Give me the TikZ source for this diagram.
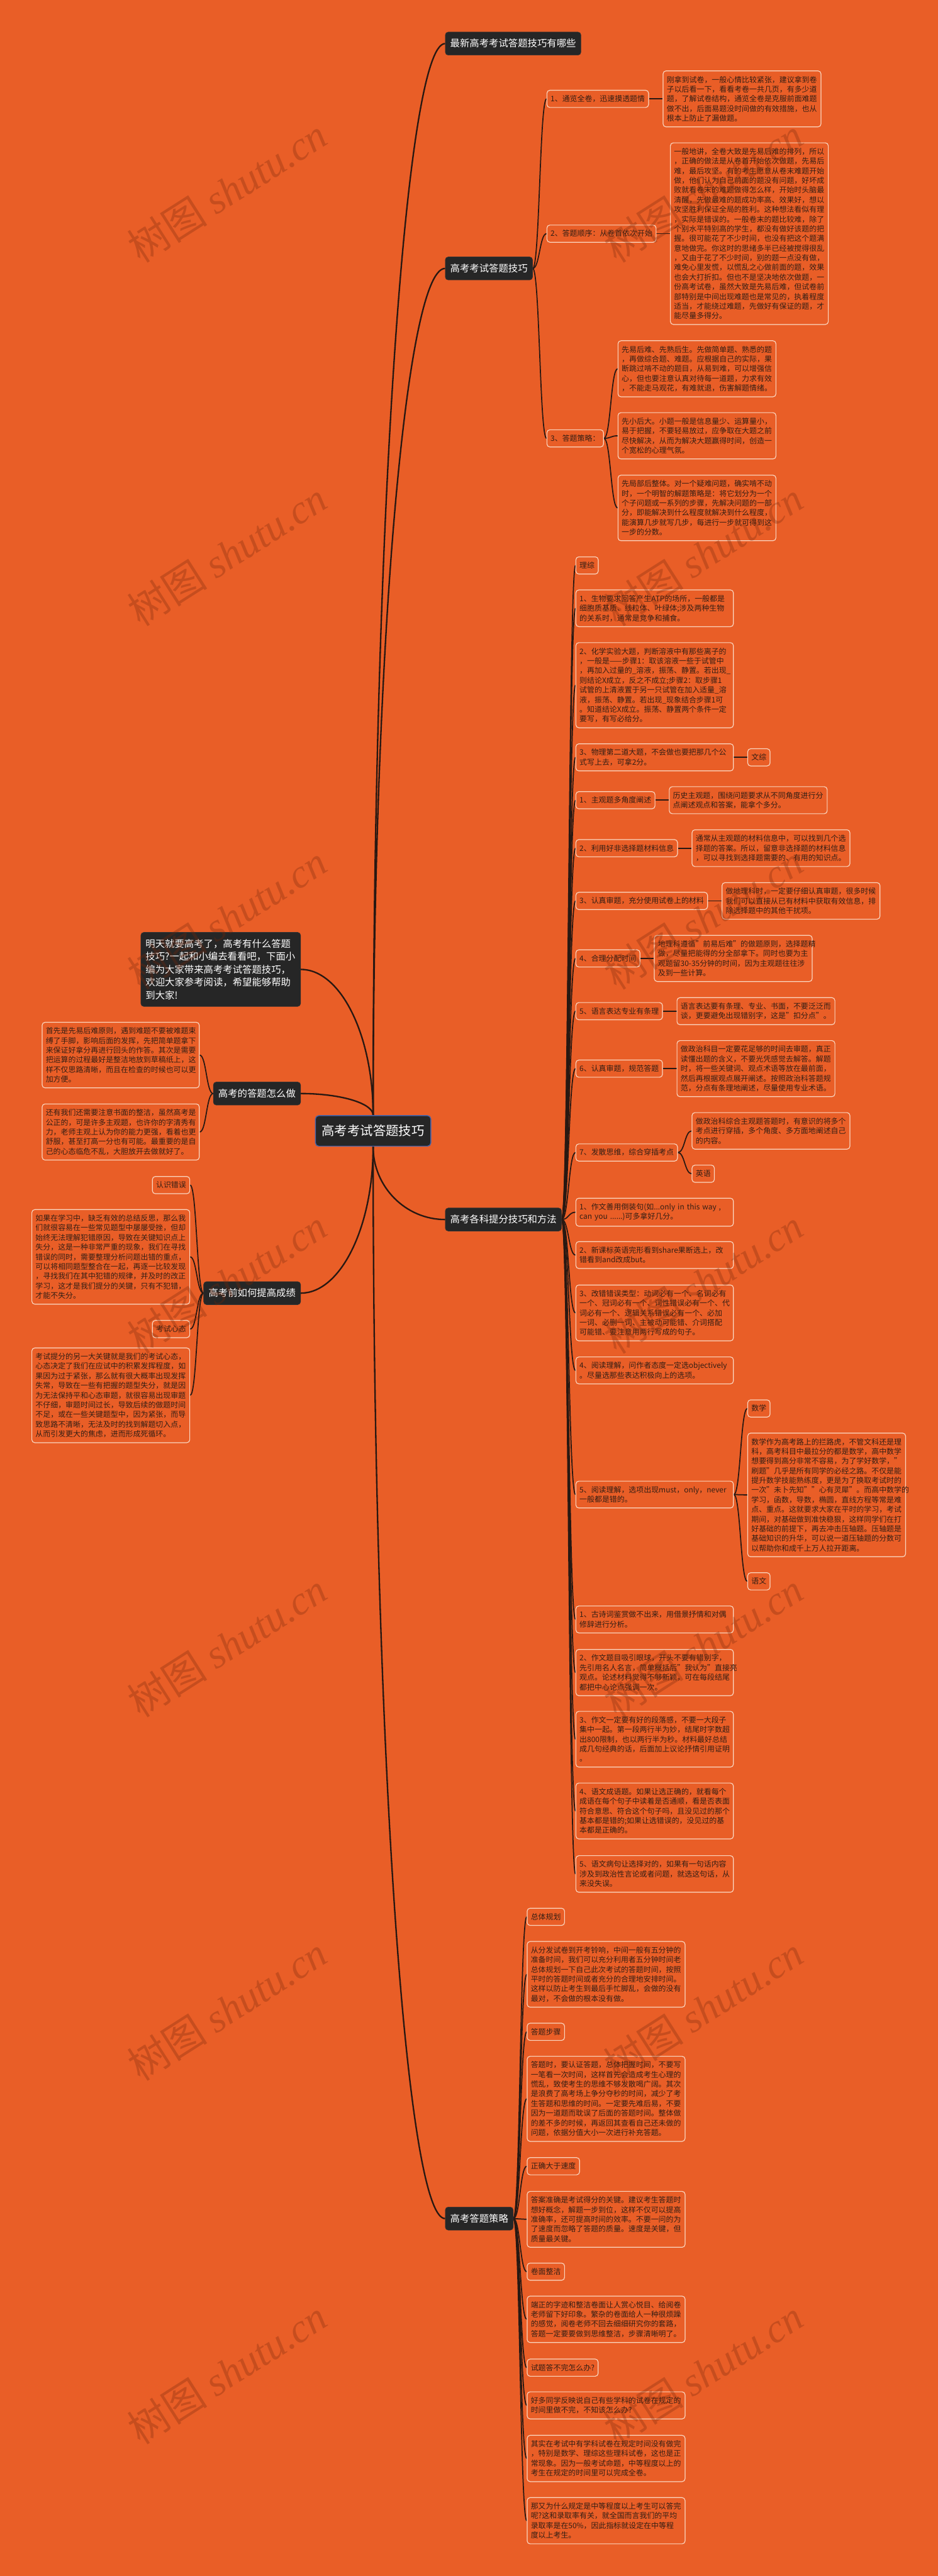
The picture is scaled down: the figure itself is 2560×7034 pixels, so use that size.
\documentclass[tikz,border=0pt]{standalone}
\usepackage{fontspec}
\setmainfont{Noto Sans CJK SC}
\newfontfamily\wmlatin{Liberation Serif}
\usetikzlibrary{calc}
\definecolor{bgor}{RGB}{233,94,39}
\definecolor{darkbox}{RGB}{38,38,38}
\definecolor{linec}{RGB}{40,24,18}
\definecolor{bord}{RGB}{250,214,192}
\definecolor{txt}{RGB}{52,30,20}
\definecolor{cbord}{RGB}{70,100,170}
\definecolor{wm}{RGB}{120,40,10}
\pgfdeclarelayer{bglayer}
\pgfdeclarelayer{linelayer}
\pgfsetlayers{bglayer,linelayer,main}
\tikzset{
 vcurve/.style={to path={let \p1=(\tikztostart), \p2=(\tikztotarget) in .. controls (\x1,{\y1+0.55*(\y2-\y1)}) and ({\x2-0.55*(\x2-\x1)},\y2) .. (\tikztotarget)}},
 hcurve/.style={to path={let \p1=(\tikztostart), \p2=(\tikztotarget) in .. controls ({\x1+0.5*(\x2-\x1)},\y1) and ({\x2-0.5*(\x2-\x1)},\y2) .. (\tikztotarget)}},
 cline/.style={draw=linec, line width=4pt},
 sline/.style={draw=linec, line width=3pt},
 lone/.style={fill=darkbox, draw=black!80, line width=1pt, rounded corners=8pt, text=white, font=\fontsize{26.4pt}{35pt}\selectfont, inner xsep=13.5pt, inner ysep=18pt, text height=23pt, text depth=4pt},
 cen/.style={fill=darkbox, draw=cbord, line width=2.5pt, rounded corners=9pt, text=white, font=\fontsize{35pt}{42pt}\selectfont, inner xsep=17.5pt, inner ysep=24pt, text height=31pt, text depth=4.5pt},
 introbox/.style={fill=darkbox, draw=black!80, line width=1pt, rounded corners=8pt, text=white, font=\fontsize{26.4pt}{35pt}\selectfont, inner xsep=13pt, inner ysep=19pt, text width=410pt, align=left},
 lab/.style={fill=bgor, draw=bord, line width=2pt, rounded corners=8pt, text=txt, font=\fontsize{20.5pt}{26.4pt}\selectfont, inner xsep=10pt, inner ysep=13pt, text height=18pt, text depth=3pt},
 tbox/.style={fill=bgor, draw=bord, line width=2pt, rounded corners=8pt, text=txt, font=\fontsize{20.5pt}{26.4pt}\selectfont, inner xsep=10pt, inner ysep=14pt, text width=411pt, align=left},
 wmk/.style={rotate=32.5, text=wm, text opacity=0.3, font=\fontsize{110pt}{110pt}\selectfont, inner sep=0pt},
}
\begin{document}
\begin{tikzpicture}[x=1pt,y=-1pt]
\useasboundingbox (0,0) rectangle (2560,7034);
\begin{pgfonlayer}{bglayer}
\fill[bgor] (0,0) rectangle (2560,7034);
\end{pgfonlayer}

% center
\node[cen] (cen) at (1018.5,3088) {高考考试答题技巧};

% ===== section 1 =====
\node[lone, anchor=west] (n1) at (1215,119) {最新高考考试答题技巧有哪些};
\node[lone, anchor=west] (n2) at (1215,733) {高考考试答题技巧};
\node[lab, anchor=west] (n2a) at (1492,270) {1、通览全卷，迅速摸透题情};
\node[tbox, anchor=west] (ta) at (1809,270) {刚拿到试卷，一般心情比较紧张，建议拿到卷\\子以后看一下，看看考卷一共几页，有多少道\\题，了解试卷结构，通览全卷是克服前面难题\\做不出，后面易题没时间做的有效措施，也从\\根本上防止了漏做题。};
\node[lab, anchor=west] (n2b) at (1492,638) {2、答题顺序：从卷首依次开始};
\node[tbox, anchor=west] (tb) at (1829,638) {一般地讲，全卷大致是先易后难的排列，所以\\，正确的做法是从卷首开始依次做题，先易后\\难，最后攻坚。有的考生愿意从卷末难题开始\\做，他们认为自己前面的题没有问题，好坏成\\败就看卷末的难题做得怎么样，开始时头脑最\\清醒，先做最难的题成功率高、效果好，想以\\攻坚胜利保证全局的胜利。这种想法看似有理\\，实际是错误的。一般卷末的题比较难，除了\\个别水平特别高的学生，都没有做好该题的把\\握。很可能花了不少时间，也没有把这个题满\\意地做完。你这时的思绪多半已经被搅得很乱\\，又由于花了不少时间，别的题一点没有做，\\难免心里发慌，以慌乱之心做前面的题，效果\\也会大打折扣。但也不是坚决地依次做题，一\\份高考试卷，虽然大致是先易后难，但试卷前\\部特别是中间出现难题也是常见的，执着程度\\适当，才能绕过难题，先做好有保证的题，才\\能尽量多得分。};
\node[lab, anchor=west] (n2c) at (1492,1197) {3、答题策略：};
\node[tbox, anchor=west] (tc1) at (1686,1007) {先易后难、先熟后生。先做简单题、熟悉的题\\，再做综合题、难题。应根据自己的实际，果\\断跳过啃不动的题目，从易到难，可以增强信\\心，但也要注意认真对待每一道题，力求有效\\，不能走马观花，有难就退，伤害解题情绪。};
\node[tbox, anchor=west] (tc2) at (1686,1190) {先小后大。小题一般是信息量少、运算量小，\\易于把握，不要轻易放过，应争取在大题之前\\尽快解决，从而为解决大题赢得时间，创造一\\个宽松的心理气氛。};
\node[tbox, anchor=west] (tc3) at (1686,1387) {先局部后整体。对一个疑难问题，确实啃不动\\时，一个明智的解题策略是：将它划分为一个\\个子问题或一系列的步骤，先解决问题的一部\\分，即能解决到什么程度就解决到什么程度，\\能演算几步就写几步，每进行一步就可得到这\\一步的分数。};

% ===== section 2 =====
\node[lone, anchor=west] (n3) at (1215,3330) {高考各科提分技巧和方法};
\node[lab, anchor=west] (lz) at (1571,1544) {理综};
\node[tbox, anchor=west, text width=410pt] (sw) at (1571,1661) {1、生物要求回答产生ATP的场所，一般都是\\细胞质基质、线粒体、叶绿体;涉及两种生物\\的关系时，通常是竞争和捕食。};
\node[tbox, anchor=west, text width=410pt] (hx) at (1571,1871) {2、化学实验大题，判断溶液中有那些离子的\\，一般是——步骤1：取该溶液一些于试管中\\，再加入过量的\_溶液，振荡、静置。若出现\_\\则结论X成立，反之不成立;步骤2：取步骤1\\试管的上清液置于另一只试管在加入适量\_溶\\液，振荡、静置。若出现\_现象结合步骤1可\\。知道结论X成立。振荡、静置两个条件一定\\要写，有写必给分。};
\node[tbox, anchor=west, text width=410pt] (wl) at (1571,2068) {3、物理第二道大题，不会做也要把那几个公\\式写上去，可拿2分。};
\node[lab, anchor=west] (wz) at (2040,2068) {文综};
\node[lab, anchor=west] (w1) at (1571,2185) {1、主观题多角度阐述};
\node[tbox, anchor=west] (w1t) at (1826,2185) {历史主观题，围绕问题要求从不同角度进行分\\点阐述观点和答案，能拿个多分。};
\node[lab, anchor=west] (w2) at (1571,2316) {2、利用好非选择题材料信息};
\node[tbox, anchor=west] (w2t) at (1888,2316) {通常从主观题的材料信息中，可以找到几个选\\择题的答案。所以，留意非选择题的材料信息\\，可以寻找到选择题需要的、有用的知识点。};
\node[lab, anchor=west] (w3) at (1571,2460) {3、认真审题，充分使用试卷上的材料};
\node[tbox, anchor=west] (w3t) at (1970,2460) {做地理科时，一定要仔细认真审题，很多时候\\我们可以直接从已有材料中获取有效信息，排\\除选择题中的其他干扰项。};
\node[lab, anchor=west] (w4) at (1571,2617) {4、合理分配时间};
\node[tbox, anchor=west] (w4t) at (1785,2617) {地理科遵循"前易后难"的做题原则，选择题精\\做，尽量把能得的分全部拿下。同时也要为主\\观题留30-35分钟的时间，因为主观题往往涉\\及到一些计算。};
\node[lab, anchor=west] (w5) at (1571,2761) {5、语言表达专业有条理};
\node[tbox, anchor=west] (w5t) at (1847,2761) {语言表达要有条理、专业、书面，不要泛泛而\\谈，更要避免出现错别字，这是"扣分点"。};
\node[lab, anchor=west] (w6) at (1571,2918) {6、认真审题，规范答题};
\node[tbox, anchor=west] (w6t) at (1847,2918) {做政治科目一定要花足够的时间去审题，真正\\读懂出题的含义，不要光凭感觉去解答。解题\\时，将一些关键词、观点术语等放在最前面，\\然后再根据观点展开阐述。按照政治科答题规\\范，分点有条理地阐述，尽量使用专业术语。};
\node[lab, anchor=west] (w7) at (1571,3147) {7、发散思维，综合穿插考点};
\node[tbox, anchor=west] (w7t) at (1888,3088) {做政治科综合主观题答题时，有意识的将多个\\考点进行穿插，多个角度、多方面地阐述自己\\的内容。};
\node[lab, anchor=west] (yy) at (1888,3205) {英语};
\node[tbox, anchor=west, text width=410pt] (e1) at (1571,3310) {1、作文善用倒装句(如...only in this way ,\\can you ......)可多拿好几分。};
\node[tbox, anchor=west, text width=410pt] (e2) at (1571,3427) {2、新课标英语完形看到share果断选上，改\\错看到and改成but。};
\node[tbox, anchor=west, text width=410pt] (e3) at (1571,3585) {3、改错错误类型：动词必有一个、名词必有\\一个、冠词必有一个、词性错误必有一个、代\\词必有一个、逻辑关系错误必有一个、必加\\一词、必删一词、主被动可能错、介词搭配\\可能错、要注意用两行写成的句子。};
\node[tbox, anchor=west, text width=410pt] (e4) at (1571,3742) {4、阅读理解，问作者态度一定选objectively\\。尽量选那些表达积极向上的选项。};
\node[tbox, anchor=west, text width=410pt] (e5) at (1571,4081) {5、阅读理解，选项出现must，only，never\\一般都是错的。};
\node[lab, anchor=west] (sx) at (2040,3846) {数学};
\node[tbox, anchor=west] (sxt) at (2040,4082) {数学作为高考路上的拦路虎，不管文科还是理\\科，高考科目中最拉分的都是数学，高中数学\\想要得到高分非常不容易，为了学好数学，"\\刷题"几乎是所有同学的必经之路。不仅是能\\提升数学技能熟练度，更是为了换取考试时的\\一次"未卜先知""心有灵犀"。而高中数学的\\学习，函数，导数，椭圆，直线方程等常是难\\点、重点。这就要求大家在平时的学习，考试\\期间，对基础做到准快稳狠，这样同学们在打\\好基础的前提下，再去冲击压轴题。压轴题是\\基础知识的升华，可以说一道压轴题的分数可\\以帮助你和成千上万人拉开距离。};
\node[lab, anchor=west] (yw) at (2040,4318) {语文};
\node[tbox, anchor=west, text width=410pt] (c1) at (1571,4422) {1、古诗词鉴赏做不出来，用借景抒情和对偶\\修辞进行分析。};
\node[tbox, anchor=west, text width=410pt] (c2) at (1571,4567) {2、作文题目吸引眼球，开头不要有错别字，\\先引用名人名言，简单概括后"我认为"直接亮\\观点。论述材料觉得不够新颖，可在每段结尾\\都把中心论点强调一次。};
\node[tbox, anchor=west, text width=410pt] (c3) at (1571,4749) {3、作文一定要有好的段落感，不要一大段子\\集中一起。第一段两行半为妙，结尾时字数超\\出800限制，也以两行半为秒。材料最好总结\\成几句经典的话，后面加上议论抒情引用证明\\。};
\node[tbox, anchor=west, text width=410pt] (c4) at (1571,4945) {4、语文成语题。如果让选正确的，就看每个\\成语在每个句子中读着是否通顺，看是否表面\\符合意思、符合这个句子吗，且没见过的那个\\基本都是错的;如果让选错误的，没见过的基\\本都是正确的。};
\node[tbox, anchor=west, text width=410pt] (c5) at (1571,5117) {5、语文病句让选择对的，如果有一句话内容\\涉及到政治性言论或者问题，就选这句话，从\\来没失误。};

% ===== section 3 =====
\node[lone, anchor=west] (n4) at (1215,6058) {高考答题策略};
\node[lab, anchor=west] (zg) at (1438,5234) {总体规划};
\node[tbox, anchor=west] (zgt) at (1438,5391) {从分发试卷到开考铃响，中间一般有五分钟的\\准备时间，我们可以充分利用者五分钟时间老\\总体规划一下自己此次考试的答题时间，按照\\平时的答题时间或者充分的合理地安排时间。\\这样以防止考生到最后手忙脚乱，会做的没有\\最对，不会做的根本没有做。};
\node[lab, anchor=west] (dt) at (1438,5548) {答题步骤};
\node[tbox, anchor=west] (dtt) at (1438,5731) {答题时，要认证答题，总体把握时间，不要写\\一笔看一次时间，这样首先会造成考生心理的\\慌乱，致使考生的思维不够发散喝广阔。其次\\是浪费了高考场上争分夺秒的时间，减少了考\\生答题和思维的时间。一定要先难后易，不要\\因为一道题而耽误了后面的答题时间。整体做\\的差不多的时候，再返回其查看自己还未做的\\问题，依据分值大小一次进行补充答题。};
\node[lab, anchor=west] (zq) at (1438,5915) {正确大于速度};
\node[tbox, anchor=west] (zqt) at (1438,6060) {答案准确是考试得分的关键。建议考生答题时\\想好概念，解题一步到位，这样不仅可以提高\\准确率，还可提高时间的效率。不要一问的为\\了速度而忽略了答题的质量。速度是关键，但\\质量最关键。};
\node[lab, anchor=west] (jm) at (1438,6203) {卷面整洁};
\node[tbox, anchor=west] (jmt) at (1438,6333) {端正的字迹和整洁卷面让人赏心悦目、给阅卷\\老师留下好印象。繁杂的卷面给人一种很烦躁\\的感觉，阅卷老师不回去细细研究你的套路，\\答题一定要要做到思维整洁，步骤清晰明了。};
\node[lab, anchor=west] (st) at (1438,6465) {试题答不完怎么办?};
\node[tbox, anchor=west] (st1) at (1438,6568) {好多同学反映说自己有些学科的试卷在规定的\\时间里做不完，不知该怎么办?};
\node[tbox, anchor=west] (st2) at (1438,6713) {其实在考试中有学科试卷在规定时间没有做完\\，特别是数学、理综这些理科试卷，这也是正\\常现象。因为一般考试命题，中等程度以上的\\考生在规定的时间里可以完成全卷。};
\node[tbox, anchor=west] (st3) at (1438,6883) {那又为什么规定是中等程度以上考生可以答完\\呢?这和录取率有关，就全国而言我们的平均\\录取率是在50\%，因此指标就设定在中等程\\度以上考生。};

% ===== left =====
\node[introbox, anchor=east] (intro) at (821,2647) {明天就要高考了，高考有什么答题\\技巧?一起和小编去看看吧，下面小\\编为大家带来高考考试答题技巧，\\欢迎大家参考阅读，希望能够帮助\\到大家!};
\node[lone, anchor=east] (L1) at (821,2986) {高考的答题怎么做};
\node[tbox, anchor=east, text width=409pt] (L1a) at (545,2881) {首先是先易后难原则，遇到难题不要被难题束\\缚了手脚，影响后面的发挥，先把简单题拿下\\来保证好拿分再进行回头的作答。其次是需要\\把运算的过程最好是整洁地放到草稿纸上，这\\样不仅思路清晰，而且在检查的时候也可以更\\加方便。};
\node[tbox, anchor=east, text width=409pt] (L1b) at (545,3091) {还有我们还需要注意书面的整洁，虽然高考是\\公正的，可是许多主观题，也许你的字清秀有\\力，老师主观上认为你的能力更强，看着也更\\舒服，甚至打高一分也有可能。最重要的是自\\己的心态临危不乱，大胆放开去做就好了。};
\node[lone, anchor=east] (L2) at (821,3531) {高考前如何提高成绩};
\node[lab, anchor=east] (rs) at (519,3236) {认识错误};
\node[tbox, anchor=east] (rst) at (519,3432) {如果在学习中，缺乏有效的总结反思，那么我\\们就很容易在一些常见题型中屡屡受挫，但却\\始终无法理解犯错原因，导致在关键知识点上\\失分，这是一种非常严重的现象，我们在寻找\\错误的同时，需要整理分析问题出错的重点，\\可以将相同题型整合在一起，再逐一比较发现\\，寻找我们在其中犯错的规律，并及时的改正\\学习，这才是我们提分的关键，只有不犯错，\\才能不失分。};
\node[lab, anchor=east] (ks) at (519,3629) {考试心态};
\node[tbox, anchor=east] (kst) at (519,3810) {考试提分的另一大关键就是我们的考试心态，\\心态决定了我们在应试中的积累发挥程度，如\\果因为过于紧张，那么就有很大概率出现发挥\\失常，导致在一些有把握的题型失分，就是因\\为无法保持平和心态审题，就很容易出现审题\\不仔细，审题时间过长，导致后续的做题时间\\不足，或在一些关键题型中，因为紧张，而导\\致思路不清晰，无法及时的找到解题切入点，\\从而引发更大的焦虑，进而形成死循环。};

% ===== connectors =====
\begin{pgfonlayer}{linelayer}
\draw[cline] (cen.north) to[vcurve] (n1.west);
\draw[cline] (cen.north) to[vcurve] (n2.west);
\draw[cline] (cen.south) to[vcurve] (n3.west);
\draw[cline] (cen.south) to[vcurve] (n4.west);
\draw[cline] (cen.north) to[vcurve] (intro.east);
\draw[cline] (cen.north) to[vcurve] (L1.east);
\draw[cline] (cen.south) to[vcurve] (L2.east);
\foreach \c in {n2a,n2b,n2c} \draw[sline] (n2.east) to[hcurve] (\c.west);
\draw[sline] (n2a.east) to[hcurve] (ta.west);
\draw[sline] (n2b.east) to[hcurve] (tb.west);
\foreach \c in {tc1,tc2,tc3} \draw[sline] (n2c.east) to[hcurve] (\c.west);
\foreach \c in {lz,sw,hx,wl,w1,w2,w3,w4,w5,w6,w7,e1,e2,e3,e4,e5,c1,c2,c3,c4,c5} \draw[sline] (n3.east) to[hcurve] (\c.west);
\draw[sline] (wl.east) to[hcurve] (wz.west);
\draw[sline] (w1.east) to[hcurve] (w1t.west);
\draw[sline] (w2.east) to[hcurve] (w2t.west);
\draw[sline] (w3.east) to[hcurve] (w3t.west);
\draw[sline] (w4.east) to[hcurve] (w4t.west);
\draw[sline] (w5.east) to[hcurve] (w5t.west);
\draw[sline] (w6.east) to[hcurve] (w6t.west);
\draw[sline] (w7.east) to[hcurve] (w7t.west);
\draw[sline] (w7.east) to[hcurve] (yy.west);
\foreach \c in {sx,sxt,yw} \draw[sline] (e5.east) to[hcurve] (\c.west);
\foreach \c in {zg,zgt,dt,dtt,zq,zqt,jm,jmt,st,st1,st2,st3} \draw[sline] (n4.east) to[hcurve] (\c.west);
\foreach \c in {L1a,L1b} \draw[sline] (L1.west) to[hcurve] (\c.east);
\foreach \c in {rs,rst,ks,kst} \draw[sline] (L2.west) to[hcurve] (\c.east);
\end{pgfonlayer}

% ===== watermarks =====
\foreach \wx in {620,1920} \foreach \wy in {520,1513,2506,3499,4492,5485,6478}
  \node[wmk] (wm-\wx-\wy) at (\wx,\wy) {树图 {\wmlatin\itshape shutu.cn}};
\end{tikzpicture}
\end{document}
